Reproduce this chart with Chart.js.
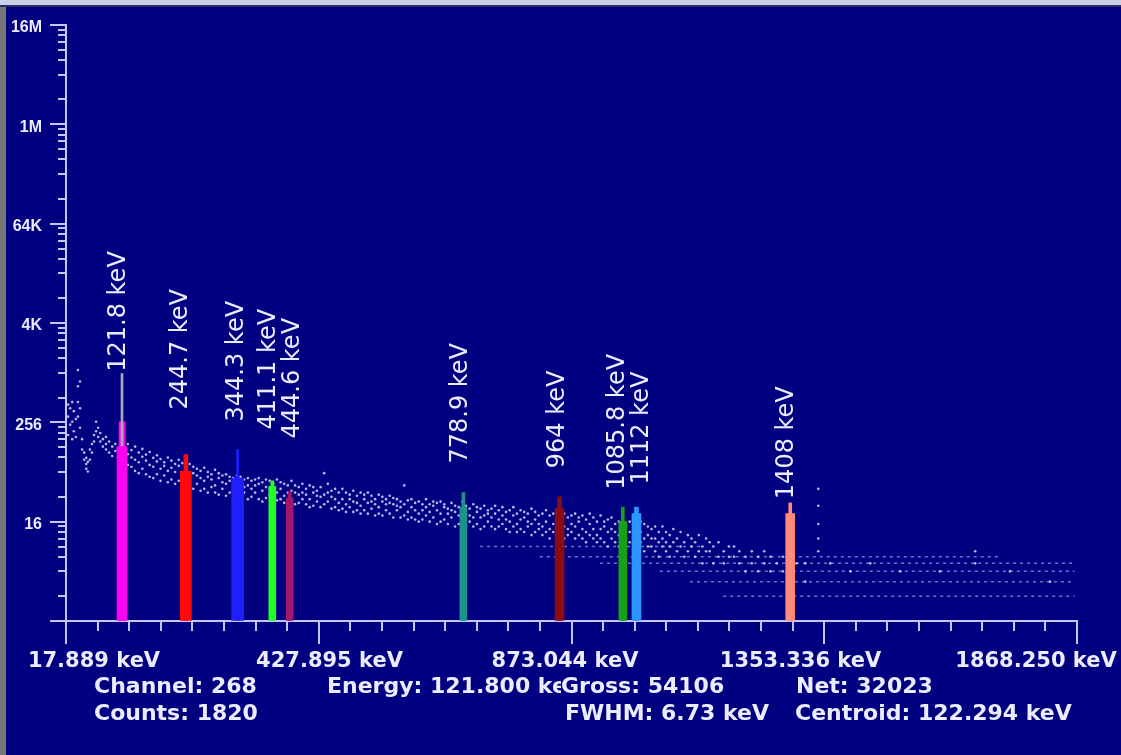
<!DOCTYPE html>
<html>
<head>
<meta charset="utf-8">
<title>Gamma spectrum</title>
<script src="https://cdn.jsdelivr.net/npm/chart.js@4.4.1/dist/chart.umd.min.js"></script>
<style>
  html, body { margin: 0; padding: 0; background: #000080; overflow: hidden; }
  canvas { display: block; }
</style>
</head>
<body>
<canvas id="spectrum" width="1121" height="755"></canvas>
<script>
// axis ticks
const yTickValues = [1, 16, 256, 4096, 65536, 1048576, 16777216];
const yTickLabels = ['', '16', '256', '4K', '64K', '1M', '16M'];
const xTickLabels = ['17.889 keV', '427.895 keV', '873.044 keV', '1353.336 keV', '1868.250 keV'];
const xMin = 14, xMax = 1960;

// identified peaks (keV, counts)
const peakEnergies = [121.8, 244.7, 344.3, 411.1, 444.6, 778.9, 964, 1085.8, 1112, 1408];
const peakLabels = ['121.8 keV', '244.7 keV', '344.3 keV', '411.1 keV', '444.6 keV',
  '778.9 keV', '964 keV', '1085.8 keV', '1112 keV', '1408 keV'];
const peakCounts = [130, 65, 54, 43, 31, 24, 23, 16, 20, 20];
const peakTipCounts = [260, 104, 120, 50, 37, 36, 32, 24, 24, 27];
const labelCounts = [1050, 366, 262, 210, 163, 81, 71, 39, 45, 30];

// cursor on the 121.8 keV channel
const cursorEnergy = 121.8;
const cursorCounts = 1000;

// background continuum (keV, counts seen at that energy)
const contEnergy = [18, 22, 26, 29, 33, 37, 41, 45, 49, 53, 56, 60, 64, 68, 72, 76, 80, 85, 91, 97,
  103, 109, 114, 120,
  126, 133, 140, 147, 154, 161, 168, 175, 182, 189, 196, 203, 210, 217, 224, 231, 238, 245, 252,
  259, 266, 273, 280, 287, 294, 301, 308, 315, 322, 329, 336, 343, 350, 357, 364, 371, 378, 385,
  392, 399, 406, 413, 420, 427, 434, 441, 448, 455, 462, 469, 476, 483, 490, 497, 504, 511, 518,
  525, 532, 539, 546, 553, 560, 567, 574, 581, 588, 595, 602, 609, 616, 623, 630, 637, 644, 651,
  658, 665, 672, 679, 686, 693, 700, 707, 714, 721, 728, 735, 742, 749, 756, 763, 770, 777, 784,
  791, 798, 805, 812, 819, 826, 833, 840, 847, 854, 861, 868, 875, 882, 889, 896, 903, 910, 917,
  924, 931, 938, 945, 952, 959, 966, 973, 980, 987, 994, 1001, 1008, 1015, 1022, 1029, 1036, 1043,
  1050, 1057, 1064, 1071, 1078, 1085, 1092, 1099, 1106, 1113, 1120, 1127, 1134, 1141, 1148, 1155,
  1162, 1169, 1176, 1183, 1190, 1197, 1204, 1211, 1218, 1225, 1232, 1239, 1246, 1253, 1260, 1270,
  1280, 1290, 1300, 1310, 1322, 1334, 1346, 1358, 1370, 1382, 1394, 1420, 1437, 1462, 1485, 1524,
  1562, 1620, 1696, 1764, 1831, 1908];
const contCounts = [
  [300, 420, 180], [380, 240], [450, 260, 160], [350, 200], [280, 170], [1100, 700, 450, 300],
  [800, 380, 220], [160, 120], [110, 90], [80, 70, 95], [65, 85], [90, 120], [140, 110], [180, 150],
  [260, 200], [220, 170], [190, 150], [160, 130], [140, 170, 120], [150, 110], [130, 100],
  [140, 115], [120, 95], [110, 140],
  [120, 88, 70], [105, 140, 78], [96, 74, 118], [130, 90, 66], [84, 110, 62], [98, 70, 122],
  [88, 60, 104], [112, 78, 56], [74, 95, 54], [86, 60, 102], [70, 92, 50], [84, 58, 76],
  [96, 66, 48], [72, 52, 88], [64, 80, 46], [76, 50, 90], [62, 82, 44], [70, 48, 86], [80, 58, 42],
  [62, 74, 40], [46, 70, 58], [66, 38, 54], [72, 50, 40], [56, 64, 36], [42, 60, 52], [68, 44, 36],
  [54, 34, 62], [40, 58, 48], [60, 46, 33], [50, 36, 56], [38, 54, 44], [58, 40, 32], [48, 56, 34],
  [36, 52, 42], [54, 44, 30], [40, 50, 32], [52, 36, 44], [30, 46, 54], [48, 38, 28], [42, 52, 31],
  [34, 50, 40], [46, 28, 38], [52, 36, 29], [40, 30, 48], [33, 46, 27], [44, 36, 28], [50, 30, 38],
  [36, 26, 44], [42, 34, 27], [30, 46, 36], [40, 26, 34], [44, 30, 24], [36, 42, 25], [28, 38, 33],
  [42, 32, 24], [62, 34, 26], [46, 28, 36], [38, 23, 32], [30, 40, 24], [36, 27, 22], [40, 30, 23],
  [26, 36, 21], [34, 24, 30], [38, 28, 21], [22, 33, 27], [36, 25, 20], [30, 22, 34], [27, 36, 20],
  [33, 23, 28], [19, 30, 26], [34, 24, 20], [28, 32, 19], [22, 30, 26], [33, 20, 27], [26, 31, 18],
  [30, 22, 25], [18, 28, 24], [44, 26, 19], [29, 21, 17], [24, 30, 18], [27, 17, 22], [20, 28, 16],
  [26, 22, 17], [30, 19, 24], [16, 26, 21], [25, 18, 28], [22, 15, 27], [28, 20, 16], [24, 17, 26],
  [15, 23, 20], [27, 18, 22], [21, 14, 25], [24, 19, 15], [28, 17, 22], [20, 25, 14], [23, 16, 19],
  [26, 18, 14], [21, 24, 15], [18, 13, 23], [25, 19, 14], [16, 22, 20], [23, 14, 18], [20, 25, 13],
  [17, 22, 14], [24, 15, 19], [13, 21, 17], [22, 16, 12], [19, 24, 14], [15, 20, 12], [22, 17, 13],
  [18, 12, 21], [14, 20, 16], [23, 15, 11], [17, 21, 12], [13, 19, 15], [20, 14, 11], [16, 22, 12],
  [19, 13, 10], [15, 20, 12], [22, 14, 11], [17, 12, 19], [14, 20, 10], [18, 13, 11], [12, 19, 15],
  [20, 14, 10], [16, 11, 18], [13, 19, 10], [17, 12, 9], [15, 20, 11], [18, 10, 13], [11, 16, 9],
  [19, 13, 10], [14, 9, 16], [17, 12, 8], [13, 18, 10], [15, 9, 12], [16, 11, 8], [12, 17, 9],
  [14, 10, 8], [16, 9, 12], [11, 15, 8], [14, 10, 7], [12, 16, 9], [15, 10, 7], [11, 14, 8],
  [13, 8, 10], [10, 14, 7], [12, 9, 6], [14, 8, 10], [9, 12, 7], [11, 8, 6], [13, 9], [10, 7],
  [12, 8], [9, 6], [11, 7], [8, 10], [9, 6], [11, 7], [8, 5], [10, 7], [7, 9], [8, 5], [9, 6],
  [7, 5], [8, 6], [6, 8], [7, 5], [6, 4], [7, 5], [6, 4], [5, 7], [6, 4], [5], [6, 4], [5], [5, 3],
  [40, 25, 15, 10, 7], [5], [4], [5], [4], [4], [7, 5], [4], [3]];

// low-count channels that pile up on integer levels
const streakLevels = [2, 3, 4, 5, 6, 8];
const streakFrom = [1279, 1215, 1157, 1042, 926, 811];
const streakTo = [1955, 1955, 1955, 1955, 1812, 1235];

// readout panel under the axis
const readoutRows = [
  ['Channel: 268', 'Energy: 121.800 keV', 'Gross: 54106', 'Net: 32023'],
  ['Counts: 1820', 'FWHM: 6.73 keV', 'Centroid: 122.294 keV']
];

// styles
const peakColors = ['#ff00f0', '#ff0a0a', '#1e1eff', '#22ff22', '#a0186c',
  '#1a9488', '#8c0c14', '#18a018', '#2a96ff', '#ff8a78'];
const bodyWidths = [10, 11, 12, 7, 7, 7, 9, 8, 9, 9];
const tipWidths = [6, 4, 2, 3, 3, 3, 4, 3, 4, 3];
const labelShift = [-3, -5, -1, -4, 3, -3, -2, -5, 5, -3];
const readoutX = [[94, 327, 561, 796], [94, 565, 795]];
const readoutY = [693, 720];
const axisColor = '#c6c6f6';
const textColor = '#ececff';

const datasets = [];
streakLevels.forEach((lvl, i) => {
  datasets.push({
    type: 'line',
    data: [{ x: streakFrom[i], y: lvl }, { x: streakTo[i], y: lvl }],
    borderColor: 'rgba(205,205,255,0.55)',
    borderWidth: 1.5,
    borderDash: [3, 4],
    pointRadius: 0,
    order: 3
  });
});

const contPoints = [];
contEnergy.forEach((e, i) => {
  contCounts[i].forEach(c => contPoints.push({ x: e, y: c }));
});
datasets.push({
  type: 'scatter',
  data: contPoints,
  pointRadius: 1.3,
  pointBorderWidth: 0,
  pointBackgroundColor: 'rgba(215,215,255,0.85)',
  order: 2
});

datasets.push({
  type: 'bar',
  data: [{ x: cursorEnergy, y: cursorCounts }],
  backgroundColor: '#a9a9b4',
  barThickness: 2,
  grouped: false,
  base: 1,
  order: 1
});

peakEnergies.forEach((e, i) => {
  datasets.push({
    type: 'bar',
    data: [{ x: e, y: peakTipCounts[i] }],
    backgroundColor: peakColors[i],
    barThickness: tipWidths[i],
    grouped: false,
    base: 1,
    order: 1
  });
  datasets.push({
    type: 'bar',
    data: [{ x: e, y: peakCounts[i] }],
    backgroundColor: peakColors[i],
    barThickness: bodyWidths[i],
    grouped: false,
    base: 1,
    order: 0
  });
});

const backdrop = {
  id: 'backdrop',
  beforeDraw(chart) {
    const ctx = chart.ctx;
    ctx.save();
    ctx.fillStyle = '#000080';
    ctx.fillRect(0, 0, chart.width, chart.height);
    ctx.fillStyle = '#767676';
    ctx.fillRect(0, 0, 6, chart.height);
    ctx.fillStyle = '#c9cfe6';
    ctx.fillRect(0, 0, chart.width, 5);
    ctx.fillStyle = '#2a2a66';
    ctx.fillRect(0, 5, chart.width, 2);
    ctx.restore();
  }
};

const peakText = {
  id: 'peakText',
  afterDatasetsDraw(chart) {
    const { ctx, scales: { x, y } } = chart;
    ctx.save();
    ctx.font = '24px "DejaVu Sans"';
    ctx.fillStyle = textColor;
    ctx.textAlign = 'left';
    ctx.textBaseline = 'middle';
    peakLabels.forEach((t, i) => {
      ctx.save();
      ctx.translate(x.getPixelForValue(peakEnergies[i]) + labelShift[i], y.getPixelForValue(labelCounts[i]));
      ctx.rotate(-Math.PI / 2);
      ctx.fillText(t, 0, 0);
      ctx.restore();
    });
    ctx.restore();
  }
};

const axisMarks = {
  id: 'axisMarks',
  afterDraw(chart) {
    const { ctx, scales: { x, y } } = chart;
    ctx.save();
    ctx.strokeStyle = axisColor;
    ctx.lineWidth = 2;
    ctx.beginPath();
    for (let i = 0; i <= 32; i++) {
      const px = Math.round(x.getPixelForValue(x.min + i * (x.max - x.min) / 32));
      const len = i % 8 === 0 ? 23 : 10;
      ctx.moveTo(px, y.bottom);
      ctx.lineTo(px, y.bottom + len);
    }
    yTickValues.forEach((v, i) => {
      const py = Math.round(y.getPixelForValue(v));
      ctx.moveTo(x.left - 16, py);
      ctx.lineTo(x.left, py);
      if (i < yTickValues.length - 1) {
        [2, 4, 6, 8, 10, 12, 14].forEach(m => {
          const pm = Math.round(y.getPixelForValue(v * m));
          ctx.moveTo(x.left - 8, pm);
          ctx.lineTo(x.left, pm);
        });
      }
    });
    ctx.stroke();

    ctx.fillStyle = textColor;
    ctx.font = 'bold 21px "DejaVu Sans"';
    ctx.textAlign = 'center';
    ctx.textBaseline = 'alphabetic';
    const a = x.left + 28, b = x.right - 41;
    xTickLabels.forEach((t, i) => ctx.fillText(t, a + i * (b - a) / 4, y.bottom + 46));

    ctx.font = 'bold 22px "DejaVu Sans"';
    ctx.textAlign = 'left';
    readoutRows.forEach((row, r) => {
      row.forEach((t, c) => {
        ctx.save();
        if (r === 0 && c === 1) {
          ctx.beginPath();
          ctx.rect(readoutX[r][c], readoutY[r] - 30, readoutX[r][c + 1] - readoutX[r][c], 40);
          ctx.clip();
        }
        ctx.fillText(t, readoutX[r][c], readoutY[r]);
        ctx.restore();
      });
    });
    ctx.restore();
  }
};

new Chart(document.getElementById('spectrum'), {
  type: 'bar',
  data: { datasets },
  options: {
    responsive: false,
    animation: false,
    layout: { padding: { top: 25, right: 44, bottom: 0, left: 0 } },
    plugins: { legend: { display: false }, tooltip: { enabled: false } },
    scales: {
      x: {
        type: 'linear',
        min: xMin,
        max: xMax,
        offset: false,
        grid: { display: false },
        border: { color: axisColor, width: 2 },
        ticks: { display: false },
        afterFit: s => { s.height = 134; }
      },
      y: {
        type: 'logarithmic',
        min: 1,
        max: 16777216,
        grid: { display: true, drawOnChartArea: false, drawTicks: true, tickLength: 16, color: 'rgba(0,0,0,0)' },
        border: { color: axisColor, width: 2 },
        afterBuildTicks: s => { s.ticks = yTickValues.map(v => ({ value: v })); },
        ticks: {
          autoSkip: false,
          padding: 8,
          labelOffset: 3,
          color: textColor,
          font: { family: 'Liberation Sans', weight: 'bold', size: 16 },
          callback: (v, i) => yTickLabels[i]
        },
        afterFit: s => { s.width = 66; }
      }
    }
  },
  plugins: [backdrop, peakText, axisMarks]
});
</script>
</body>
</html>
